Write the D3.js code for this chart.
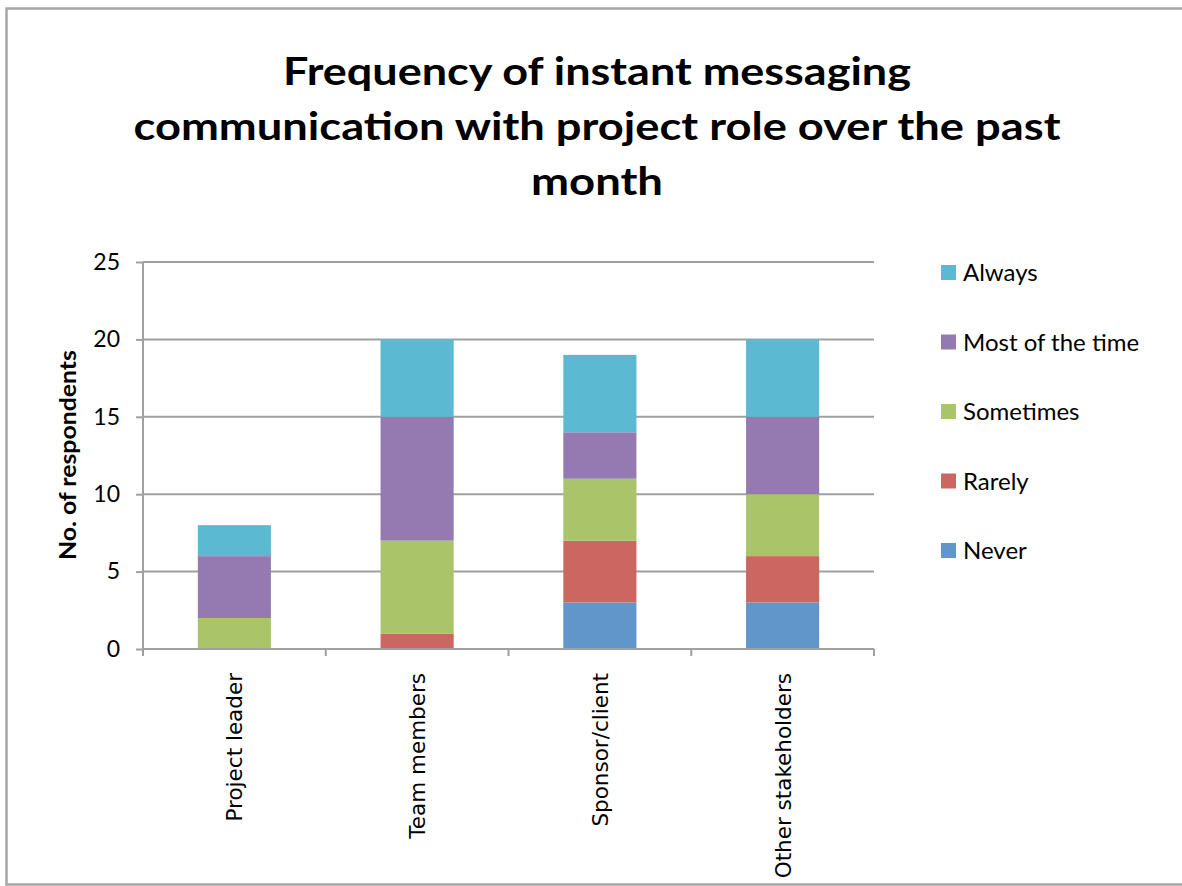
<!DOCTYPE html>
<html>
<head>
<meta charset="utf-8">
<script src="https://cdn.jsdelivr.net/npm/d3@7"></script>
<style>
  body { margin: 0; background: #fff; overflow: hidden; }
  svg { display: block; }
  text { fill: #000; }
</style>
</head>
<body>
<svg id="chart" width="1182" height="886"></svg>
<script>
const categories = ["Project leader", "Team members", "Sponsor/client", "Other stakeholders"];
const seriesNames = ["Never", "Rarely", "Sometimes", "Most of the time", "Always"];
const never = [0, 0, 3, 3];
const rarely = [0, 1, 4, 3];
const sometimes = [2, 6, 4, 4];
const mostOfTheTime = [4, 8, 3, 5];
const always = [2, 5, 5, 5];
const yTicks = [0, 5, 10, 15, 20, 25];
const titleLines = ["Frequency of instant messaging", "communication with project role over the past", "month"];
const colors = ["#6096CA", "#CC6660", "#AAC46A", "#947AB0", "#5BB9D2"];

const seriesValues = [never, rarely, sometimes, mostOfTheTime, always];
const rows = categories.map((c, i) => {
  const r = { category: c };
  seriesNames.forEach((s, j) => r[s] = seriesValues[j][i]);
  return r;
});

const FONT = "Lato, 'Open Sans', sans-serif";
const svg = d3.select("#chart");

// outer border (left, top, bottom only visible)
svg.append("path").attr("d", "M1182,8.5H6.5V884.5H1182")
  .attr("fill", "none").attr("stroke", "#A6A6A6").attr("stroke-width", 2.5);

// title
const titleLens = [628, 927, 132];
svg.append("g").selectAll("text").data(titleLines).join("text")
  .attr("x", 597).attr("y", (d, i) => 85 + i * 55)
  .attr("text-anchor", "middle")
  .style("font-family", FONT)
  .attr("font-size", 39).attr("font-weight", "bold")
  .attr("textLength", (d, i) => titleLens[i]).attr("lengthAdjust", "spacingAndGlyphs")
  .text(d => d);

const plot = { left: 143, right: 874, top: 262, bottom: 649 };
const x = d3.scaleBand().domain(categories).range([plot.left, plot.right]).paddingInner(0.6).paddingOuter(0.3);
const y = d3.scaleLinear().domain([0, 25]).range([plot.bottom, plot.top]);

// gridlines
svg.append("g").selectAll("line").data(yTicks.filter(t => t > 0)).join("line")
  .attr("x1", plot.left).attr("x2", plot.right)
  .attr("y1", d => y(d)).attr("y2", d => y(d))
  .attr("stroke", "#A0A0A0").attr("stroke-width", 2);

// stacked bars
const stacked = d3.stack().keys(seriesNames)(rows);
svg.append("g").selectAll("g").data(stacked).join("g")
  .attr("fill", (d, i) => colors[i])
  .selectAll("rect").data(d => d).join("rect")
  .attr("x", d => x(d.data.category))
  .attr("width", x.bandwidth())
  .attr("y", d => y(d[1]))
  .attr("height", d => y(d[0]) - y(d[1]));

// y axis
const yAxis = svg.append("g").attr("transform", `translate(${plot.left},0)`)
  .call(d3.axisLeft(y).tickValues(yTicks).tickSize(7).tickPadding(16).tickFormat(d3.format("d")));
yAxis.select(".domain").attr("stroke", "#A0A0A0").attr("stroke-width", 2).attr("d", `M0,${plot.top}V${plot.bottom}`);
yAxis.selectAll(".tick line").attr("stroke", "#A0A0A0").attr("stroke-width", 2);
yAxis.selectAll(".tick text").attr("font-size", 23).style("font-family", FONT).attr("fill", "#000");

// x axis
const xAxis = svg.append("g").attr("transform", `translate(0,${plot.bottom})`);
xAxis.append("line").attr("x1", plot.left).attr("x2", plot.right).attr("stroke", "#A0A0A0").attr("stroke-width", 2);
const edgeScale = d3.scaleLinear().domain([0, categories.length]).range([plot.left, plot.right]);
xAxis.selectAll("line.tk").data(d3.range(categories.length + 1)).join("line").attr("class", "tk")
  .attr("x1", d => edgeScale(d)).attr("x2", d => edgeScale(d)).attr("y1", 0).attr("y2", 7)
  .attr("stroke", "#A0A0A0").attr("stroke-width", 2);
xAxis.selectAll("text").data(categories).join("text")
  .attr("transform", d => `translate(${x(d) + x.bandwidth() / 2 + 8},24) rotate(-90)`)
  .attr("text-anchor", "end")
  .attr("font-size", 21.5).style("font-family", "'DejaVu Sans', sans-serif")
  .text(d => d);

// y axis title
svg.append("text").attr("transform", "translate(76,455) rotate(-90)")
  .attr("text-anchor", "middle").attr("font-size", 23).attr("font-weight", "bold")
  .style("font-family", FONT)
  .attr("textLength", 210).attr("lengthAdjust", "spacingAndGlyphs")
  .text("No. of respondents");

// legend
const legendItems = seriesNames.map((s, i) => ({ name: s, color: colors[i] })).reverse();
const lg = svg.append("g").selectAll("g").data(legendItems).join("g")
  .attr("transform", (d, i) => `translate(941,${265 + i * 69.5})`);
lg.append("rect").attr("width", 15).attr("height", 15).attr("fill", d => d.color);
lg.append("text").attr("x", 22).attr("y", 16).attr("font-size", 24).style("font-family", FONT).text(d => d.name);
</script>
</body>
</html>
